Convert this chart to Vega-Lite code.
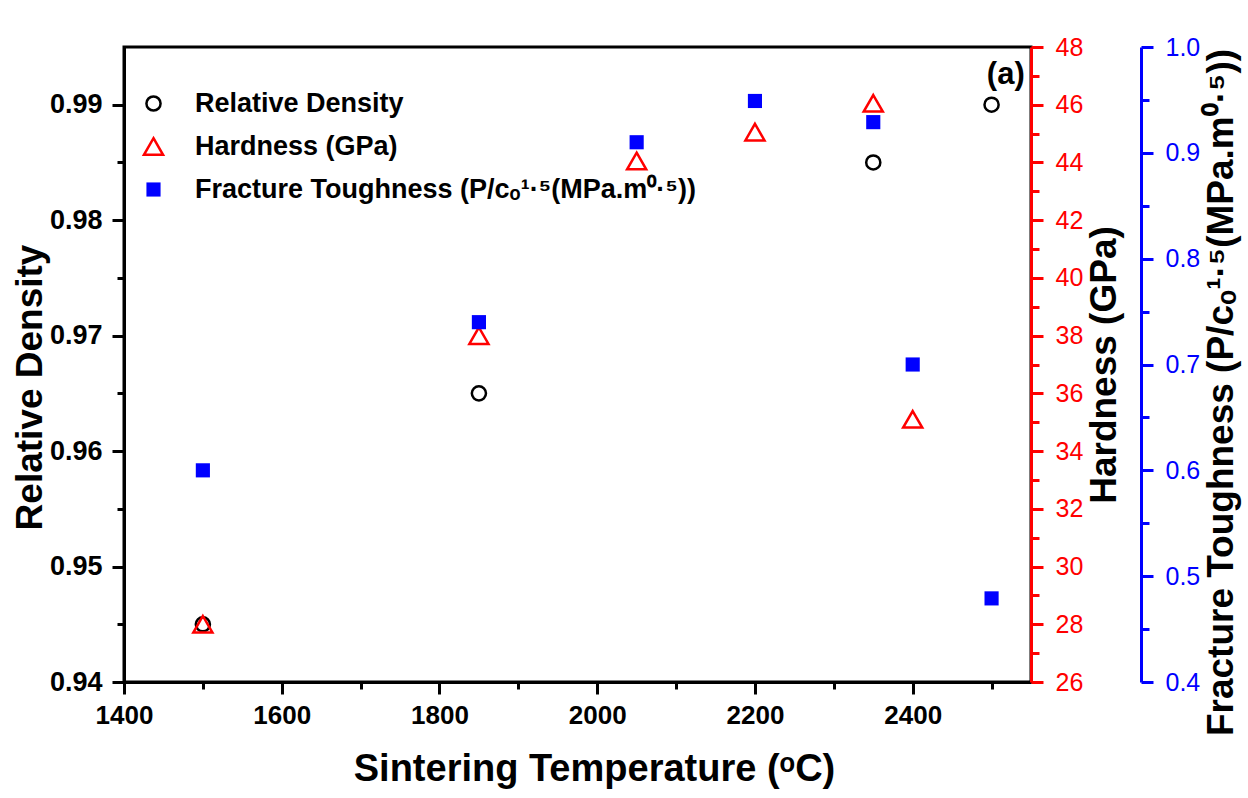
{
  "$schema": "https://vega.github.io/schema/vega-lite/v6.json",
  "width": 907,
  "height": 635,
  "autosize": "none",
  "padding": {"left": 124, "top": 47, "right": 217, "bottom": 116},
  "background": "white",
  "config": {
    "font": "Liberation Sans",
    "view": {"stroke": "black", "strokeWidth": 3},
    "axis": {"grid": false, "labelFont": "Liberation Sans", "titleFont": "Liberation Sans", "labelOverlap": false, "labelFlush": false}
  },
  "datasets": {
    "pts": [
      {"temp": 1500, "series": "Relative Density", "value": 0.945},
      {"temp": 1850, "series": "Relative Density", "value": 0.965},
      {"temp": 2350, "series": "Relative Density", "value": 0.985},
      {"temp": 2500, "series": "Relative Density", "value": 0.990},
      {"temp": 1500, "series": "Hardness (GPa)", "value": 28},
      {"temp": 1850, "series": "Hardness (GPa)", "value": 38},
      {"temp": 2050, "series": "Hardness (GPa)", "value": 44.05},
      {"temp": 2200, "series": "Hardness (GPa)", "value": 45.05},
      {"temp": 2350, "series": "Hardness (GPa)", "value": 46.05},
      {"temp": 2400, "series": "Hardness (GPa)", "value": 35.1},
      {"temp": 1500, "series": "Fracture Toughness (P/cₒ¹·⁵(MPa.m⁰·⁵))", "value": 0.600},
      {"temp": 1850, "series": "Fracture Toughness (P/cₒ¹·⁵(MPa.m⁰·⁵))", "value": 0.740},
      {"temp": 2050, "series": "Fracture Toughness (P/cₒ¹·⁵(MPa.m⁰·⁵))", "value": 0.910},
      {"temp": 2200, "series": "Fracture Toughness (P/cₒ¹·⁵(MPa.m⁰·⁵))", "value": 0.949},
      {"temp": 2350, "series": "Fracture Toughness (P/cₒ¹·⁵(MPa.m⁰·⁵))", "value": 0.929},
      {"temp": 2400, "series": "Fracture Toughness (P/cₒ¹·⁵(MPa.m⁰·⁵))", "value": 0.700},
      {"temp": 2500, "series": "Fracture Toughness (P/cₒ¹·⁵(MPa.m⁰·⁵))", "value": 0.479}
    ]
  },
  "data": {"name": "pts"},
  "layer": [
    {
      "layer": [
        {
          "transform": [{"filter": "datum.series === 'Relative Density'"}],
          "mark": {"type": "point", "size": 200, "strokeWidth": 2.5, "opacity": 1},
          "encoding": {
            "x": {
              "field": "temp", "type": "quantitative",
              "scale": {"domain": [1400, 2550], "nice": false, "zero": false},
              "axis": {
                "title": "Sintering Temperature (ᵒC)",
                "values": [1400, 1500, 1600, 1700, 1800, 1900, 2000, 2100, 2200, 2300, 2400, 2500],
                "format": "d",
                "labelExpr": "datum.value % 200 === 0 ? datum.label : ''",
                "tickSize": {"condition": {"test": "datum.value % 200 !== 0", "value": 7}, "value": 12},
                "tickWidth": 3, "tickColor": "black",
                "domainColor": "black", "domainWidth": 3,
                "labelFontSize": 26, "labelFontWeight": "bold", "labelColor": "black", "labelPadding": 8,
                "titleFontSize": 38, "titleFontWeight": "bold", "titleColor": "black", "titlePadding": 22, "titleX": 470
              }
            },
            "y": {
              "field": "value", "type": "quantitative",
              "scale": {"domain": [0.94, 0.995], "nice": false, "zero": false},
              "axis": {
                "title": "Relative Density",
                "orient": "left",
                "values": [0.94, 0.945, 0.95, 0.955, 0.96, 0.965, 0.97, 0.975, 0.98, 0.985, 0.99],
                "format": ".2f",
                "labelExpr": "round(datum.value * 1000) % 10 === 0 ? datum.label : ''",
                "tickSize": {"condition": {"test": "round(datum.value * 1000) % 10 !== 0", "value": 7}, "value": 12},
                "tickWidth": 3, "tickColor": "black",
                "domainColor": "black", "domainWidth": 3,
                "labelFontSize": 27, "labelFontWeight": "bold", "labelColor": "black", "labelPadding": 10,
                "titleFontSize": 37, "titleFontWeight": "bold", "titleColor": "black", "titlePadding": 0, "titleY": 340
              }
            },
            "shape": {
              "field": "series", "type": "nominal",
              "scale": {"domain": ["Relative Density", "Hardness (GPa)", "Fracture Toughness (P/cₒ¹·⁵(MPa.m⁰·⁵))"], "range": ["circle", "M0,-1.17L1.35,1.17L-1.35,1.17Z", "square"]},
              "legend": {"title": null, "orient": "none", "legendX": 16, "legendY": 43, "padding": 0, "labelFont": "Liberation Sans", "labelFontSize": 27, "labelFontWeight": "bold", "labelColor": "black", "symbolSize": 200, "symbolStrokeWidth": 2.5, "labelOffset": 28, "rowPadding": 15, "labelLimit": 0}
            },
            "stroke": {
              "field": "series", "type": "nominal",
              "scale": {"domain": ["Relative Density", "Hardness (GPa)", "Fracture Toughness (P/cₒ¹·⁵(MPa.m⁰·⁵))"], "range": ["black", "#ff0000", "transparent"]},
              "legend": {"title": null, "orient": "none", "legendX": 16, "legendY": 43, "padding": 0, "labelFont": "Liberation Sans", "labelFontSize": 27, "labelFontWeight": "bold", "labelColor": "black", "symbolSize": 200, "symbolStrokeWidth": 2.5, "labelOffset": 28, "rowPadding": 15, "labelLimit": 0}
            },
            "fill": {
              "field": "series", "type": "nominal",
              "scale": {"domain": ["Relative Density", "Hardness (GPa)", "Fracture Toughness (P/cₒ¹·⁵(MPa.m⁰·⁵))"], "range": ["transparent", "transparent", "#0000ff"]},
              "legend": {"title": null, "orient": "none", "legendX": 16, "legendY": 43, "padding": 0, "labelFont": "Liberation Sans", "labelFontSize": 27, "labelFontWeight": "bold", "labelColor": "black", "symbolSize": 200, "symbolStrokeWidth": 2.5, "labelOffset": 28, "rowPadding": 15, "labelLimit": 0}
            }
          }
        },
        {
          "data": {"values": [{"temp": 2518, "value": 0.9926, "label": "(a)"}]},
          "mark": {"type": "text", "fontSize": 31, "fontWeight": "bold", "font": "Liberation Sans", "color": "black", "baseline": "middle", "align": "center"},
          "encoding": {
            "x": {"field": "temp", "type": "quantitative", "scale": {"domain": [1400, 2550], "nice": false, "zero": false}},
            "y": {"field": "value", "type": "quantitative", "scale": {"domain": [0.94, 0.995], "nice": false, "zero": false}},
            "text": {"field": "label"}
          }
        }
      ]
    },
    {
      "transform": [{"filter": "datum.series === 'Hardness (GPa)'"}],
      "mark": {"type": "point", "size": 200, "strokeWidth": 2.5, "opacity": 1},
      "encoding": {
        "x": {"field": "temp", "type": "quantitative", "scale": {"domain": [1400, 2550], "nice": false, "zero": false}},
        "y": {
          "field": "value", "type": "quantitative",
          "scale": {"domain": [26, 48], "nice": false, "zero": false},
          "axis": {
            "title": "Hardness (GPa)",
            "orient": "right",
            "values": [26, 27, 28, 29, 30, 31, 32, 33, 34, 35, 36, 37, 38, 39, 40, 41, 42, 43, 44, 45, 46, 47, 48],
            "format": "d",
            "labelExpr": "datum.value % 2 === 0 ? datum.label : ''",
            "tickSize": {"condition": {"test": "datum.value % 2 !== 0", "value": 8}, "value": 12},
            "tickWidth": 3, "tickColor": "#ff0000",
            "domainColor": "#ff0000", "domainWidth": 3,
            "labelFontSize": 25, "labelFontWeight": "normal", "labelColor": "#ff0000", "labelPadding": 12,
            "titleFontSize": 37, "titleFontWeight": "bold", "titleColor": "black", "titlePadding": 4,
            "titleAngle": 270, "titleBaseline": "top"
          }
        },
        "shape": {"field": "series", "type": "nominal"},
        "stroke": {"field": "series", "type": "nominal"},
        "fill": {"field": "series", "type": "nominal"}
      }
    },
    {
      "transform": [{"filter": "datum.series !== 'Relative Density' && datum.series !== 'Hardness (GPa)'"}],
      "mark": {"type": "point", "size": 200, "strokeWidth": 2.5, "opacity": 1},
      "encoding": {
        "x": {"field": "temp", "type": "quantitative", "scale": {"domain": [1400, 2550], "nice": false, "zero": false}},
        "y": {
          "field": "value", "type": "quantitative",
          "scale": {"domain": [0.4, 1.0], "nice": false, "zero": false},
          "axis": {
            "title": "Fracture Toughness (P/cₒ¹·⁵(MPa.m⁰·⁵))",
            "orient": "right",
            "offset": 110,
            "values": [0.4, 0.45, 0.5, 0.55, 0.6, 0.65, 0.7, 0.75, 0.8, 0.85, 0.9, 0.95, 1.0],
            "format": ".1f",
            "labelExpr": "round(datum.value * 100) % 10 === 0 ? datum.label : ''",
            "tickSize": {"condition": {"test": "round(datum.value * 100) % 10 !== 0", "value": 8}, "value": 12},
            "tickWidth": 3, "tickColor": "#0000ff",
            "domainColor": "#0000ff", "domainWidth": 3,
            "labelFontSize": 25, "labelFontWeight": "normal", "labelColor": "#0000ff", "labelPadding": 12,
            "titleFontSize": 37, "titleFontWeight": "bold", "titleColor": "black", "titlePadding": 4,
            "titleAngle": 270, "titleBaseline": "top", "titleY": 345
          }
        },
        "shape": {"field": "series", "type": "nominal"},
        "stroke": {"field": "series", "type": "nominal"},
        "fill": {"field": "series", "type": "nominal"}
      }
    }
  ],
  "resolve": {"scale": {"y": "independent"}}
}
